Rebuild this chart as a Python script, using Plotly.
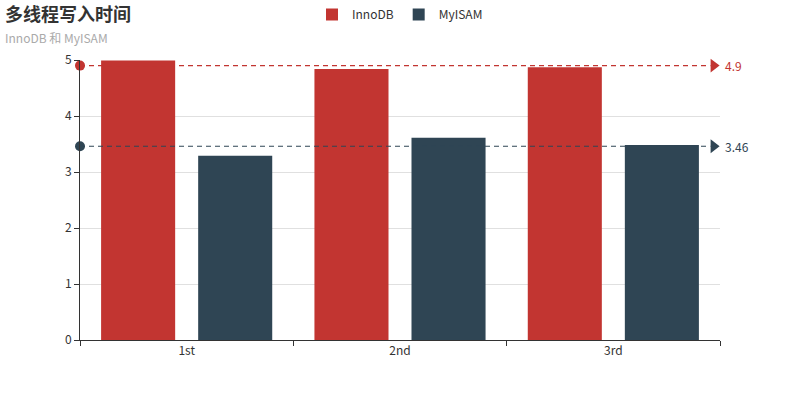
import numpy as np
import plotly.graph_objects as go

categories = ["1st", "2nd", "3rd"]
innodb = [4.99, 4.84, 4.87]
myisam = [3.29, 3.61, 3.48]
series_names = ["InnoDB", "MyISAM"]
colors = ["#c23531", "#2f4554"]
title_text = "多线程写入时间"
subtitle_text = "InnoDB 和 MyISAM"

FONT = "Noto Sans CJK SC, Microsoft YaHei, sans-serif"

fig = go.Figure()
for name, vals, c in zip(series_names, [innodb, myisam], colors):
    fig.add_trace(go.Bar(x=categories, y=vals, name=name, marker=dict(color=c, line=dict(width=0))))

# average mark lines
for name, vals, c in zip(series_names, [innodb, myisam], colors):
    avg = round(float(np.mean(vals)), 2)
    fig.add_shape(type="line", xref="paper", yref="y", x0=0, x1=0.985, y0=avg, y1=avg,
                  line=dict(color=c, width=1.2, dash="5px,4px"))
    fig.add_trace(go.Scatter(x=[0], y=[avg], xaxis="x2", mode="markers", showlegend=False,
                             marker=dict(symbol="circle", size=10, color=c), cliponaxis=False,
                             hoverinfo="skip"))
    fig.add_trace(go.Scatter(x=[0.99], y=[avg], xaxis="x2", mode="markers", showlegend=False,
                             marker=dict(symbol="triangle-right", size=12, color=c), cliponaxis=False,
                             hoverinfo="skip"))
    fig.add_annotation(xref="paper", yref="y", x=1, y=avg, text=f"{avg:g}", showarrow=False,
                       xanchor="left", xshift=3, font=dict(size=12, color=c, family=FONT))

fig.update_layout(
    width=800, height=400,
    margin=dict(l=80, r=80, t=60, b=60),
    plot_bgcolor="white", paper_bgcolor="white",
    font=dict(family=FONT, size=12, color="#333"),
    barmode="group", bargap=0.09, bargroupgap=0.237,
    legend=dict(orientation="h", x=0.5, xanchor="center", y=1.0, yref="container", yanchor="top",
                font=dict(size=12, color="#333"), traceorder="normal"),
    xaxis=dict(type="category", showline=True, linecolor="#333", linewidth=1, ticks="outside",
               tickson="boundaries", ticklen=5, tickcolor="#333", showgrid=False,
               tickfont=dict(size=12, color="#333")),
    xaxis2=dict(overlaying="x", range=[0, 1], visible=False),
    yaxis=dict(range=[0, 5], dtick=1, showline=True, linecolor="#333", linewidth=1, ticks="outside",
               ticklen=5, tickcolor="#333", gridcolor="#e0e0e0", zeroline=False,
               tickfont=dict(size=12, color="#333")),
    annotations=list(fig.layout.annotations) + [
        dict(text=f"<b>{title_text}</b>", xref="paper", yref="paper", x=0, y=1, xanchor="left", yanchor="bottom",
             xshift=-77, yshift=32, showarrow=False, font=dict(size=18, color="#333", family=FONT)),
        dict(text=subtitle_text, xref="paper", yref="paper", x=0, y=1, xanchor="left", yanchor="bottom",
             xshift=-77, yshift=12, showarrow=False, font=dict(size=12, color="#aaa", family=FONT)),
    ],
)

fig.write_html("out.html", config={"displayModeBar": False},
               post_script="document.body.style.margin='0';")
